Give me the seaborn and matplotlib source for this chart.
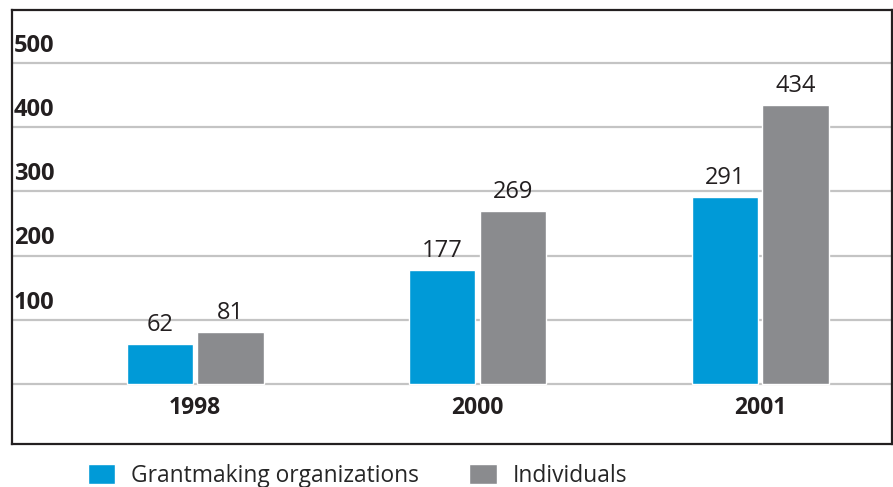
import pandas as pd
import matplotlib.pyplot as plt
import matplotlib.transforms as mtransforms
import seaborn as sns

years = ["1998", "2000", "2001"]
grantmaking = [62, 177, 291]
individuals = [81, 269, 434]
series_names = ["Grantmaking organizations", "Individuals"]
y_ticks = [0, 100, 200, 300, 400, 500]

BLUE = "#009AD7"
GRAY = "#8A8B8E"

sns.set_theme(style="white")
plt.rcParams["font.family"] = ["Open Sans", "DejaVu Sans"]

df = pd.DataFrame({
    "year": years * 2,
    "value": grantmaking + individuals,
    "group": [series_names[0]] * len(years) + [series_names[1]] * len(years),
})

fig = plt.figure(figsize=(8.93, 4.87), dpi=100)
ax = fig.add_axes([12 / 893, 1 - 444 / 487, 880 / 893, 434 / 487])

sns.barplot(data=df, x="year", y="value", hue="group", palette=[BLUE, GRAY],
            width=0.5, gap=0.06, saturation=1, ax=ax, zorder=3)

ax.set_xlim(-0.648, 2.467)
ax.set_ylim(-93, 582)

# gridlines + labels sitting above them
for t in y_ticks:
    ax.axhline(t, color="#C4C4C4", linewidth=1.6, zorder=1)
trans = mtransforms.blended_transform_factory(ax.transAxes, ax.transData)
for t in y_ticks[1:]:
    ax.text(0.002, t + 8, str(t), transform=trans, ha="left", va="bottom",
            fontsize=17, fontweight="bold", color="#231F20")

for i, y in enumerate(years):
    ax.text(i, -37, y, ha="center", va="center", fontsize=16.5,
            fontweight="bold", color="#231F20")

for cont in ax.containers:
    ax.bar_label(cont, padding=5, fontsize=17, color="#231F20")

ax.set_xticks([])
ax.set_yticks([])
ax.set_xlabel("")
ax.set_ylabel("")
for s in ax.spines.values():
    s.set_visible(True)
    s.set_color("#231F20")
    s.set_linewidth(1.6)

sns.move_legend(ax, "upper left", bbox_to_anchor=(88 / 893, 1 - 464 / 487),
                bbox_transform=fig.transFigure, ncol=2, frameon=False, title=None,
                fontsize=16.4, handlelength=1.2, handleheight=1.0,
                handletextpad=0.7, columnspacing=2.2, borderpad=0, borderaxespad=0)

fig.savefig("out.png", dpi=100)
